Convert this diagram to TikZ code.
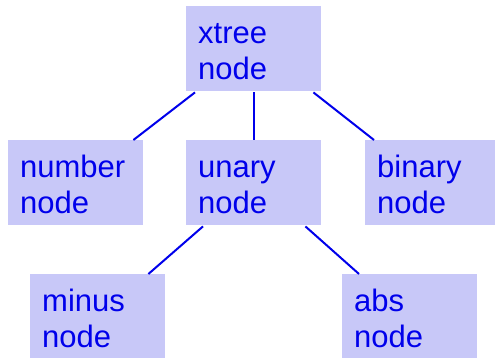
\documentclass[tikz,border=0pt]{standalone}
\usepackage{fontspec}
\setmainfont{Liberation Sans}
\definecolor{boxfill}{RGB}{200,200,248}
\definecolor{ink}{RGB}{0,0,235}
\begin{document}
\begin{tikzpicture}[x=1pt,y=1pt,
  tnode/.style={rectangle, fill=boxfill, anchor=north west, align=left,
    text=ink, font=\fontsize{31}{36}\selectfont, inner xsep=12pt, inner ysep=12pt,
    text width=111pt, text height=25pt, text depth=36pt},
  link/.style={draw=ink, line width=2pt}]
\useasboundingbox (0,0) rectangle (495,358);
\node[tnode] (xtree) at (186,352) {xtree\\node};
\node[tnode] (number) at (8,218) {number\\node};
\node[tnode] (unary) at (186,218) {unary\\node};
\node[tnode, text width=106pt] (binary) at (365,218) {binary\\node};
\node[tnode] (minus) at (30,84) {minus\\node};
\node[tnode] (abs) at (342,84) {abs\\node};
\draw[link] ([xshift=9pt,yshift=-1pt]xtree.south west) -- ([xshift=-10pt]number.north east);
\draw[link] ([yshift=-1pt]xtree.south) -- (unary.north);
\draw[link] ([xshift=-8pt,yshift=-1pt]xtree.south east) -- ([xshift=9pt]binary.north west);
\draw[link] ([xshift=17pt,yshift=-1pt]unary.south west) -- ([xshift=-17pt]minus.north east);
\draw[link] ([xshift=-16pt,yshift=-1pt]unary.south east) -- ([xshift=17pt]abs.north west);
\end{tikzpicture}
\end{document}
